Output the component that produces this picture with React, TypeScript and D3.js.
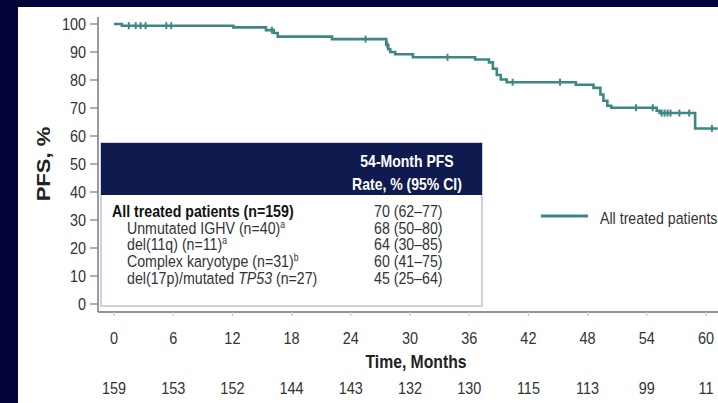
import React from "react";
import * as d3 from "d3";

// ---- Data ----
const eventTimes = [0, 0.8, 12.1, 15.4, 16.2, 16.6, 22.1, 27.6, 27.8, 28.0, 28.5, 30.3, 36.6, 38.0, 38.4, 38.8, 39.2, 39.8, 46.8, 48.6, 49.3, 49.6, 50.0, 50.4, 55.0, 55.3, 58.9];
const survival = [100, 99.4, 98.8, 97.8, 96.8, 95.5, 94.6, 92.5, 91.0, 90.0, 89.2, 88.1, 87.3, 86.3, 84.0, 81.8, 80.2, 79.2, 78.3, 77.2, 74.8, 72.6, 70.8, 70.1, 69.0, 68.2, 62.7];
const endTime = 61.2;
const censorTimes = [1.5, 2.2, 2.7, 3.2, 5.3, 5.8, 16.0, 25.5, 27.7, 33.8, 40.4, 45.2, 52.9, 54.6, 55.5, 55.8, 56.1, 56.4, 57.3, 58.3, 60.6];

const xTicks = [0, 6, 12, 18, 24, 30, 36, 42, 48, 54, 60];
const yTicks = [0, 10, 20, 30, 40, 50, 60, 70, 80, 90, 100];
const atRisk = [159, 153, 152, 144, 143, 132, 130, 115, 113, 99, 11];

const headerLines = ["54-Month PFS", "Rate, % (95% CI)"];
const rowLabels = ["All treated patients (n=159)", "Unmutated IGHV (n=40)", "del(11q) (n=11)", "Complex karyotype (n=31)", "del(17p)/mutated TP53 (n=27)"];
const rowSup = ["", "a", "a", "b", ""];
const rowRates = ["70 (62\u201377)", "68 (50\u201380)", "64 (30\u201385)", "60 (41\u201375)", "45 (25\u201364)"];

const legendLabel = "All treated patients";
const xTitle = "Time, Months";
const yTitle = "PFS, %";

// ---- Style ----
const FONT = "'Liberation Sans', Arial, Helvetica, sans-serif";
const NAVY = "#03053a";
const HEADER = "#0f1b4e";
const TEAL = "#3d8884";
const TXT = "#333";

type TP = { x: number; y: number; size: number; sx?: number; anchor?: string; weight?: string | number; fill?: string; children?: React.ReactNode };
function T({ x, y, size, sx = 0.9, anchor = "start", weight = "normal", fill = TXT, children }: TP) {
  return (
    <text transform={`translate(${x},${y}) scale(${sx},1)`} fontSize={size} fontFamily={FONT} fontWeight={weight as any} textAnchor={anchor} fill={fill}>
      {children}
    </text>
  );
}

export default function App() {
  const W = 718, H = 403;
  const x = d3.scaleLinear().domain([0, 60]).range([114, 706]);
  const y = d3.scaleLinear().domain([0, 100]).range([304, 24]);

  const pts: [number, number][] = eventTimes.map((t, i) => [t, survival[i]]);
  pts.push([endTime, survival[survival.length - 1]]);
  const line = d3.line<[number, number]>().x(d => x(d[0])).y(d => y(d[1])).curve(d3.curveStepAfter);

  const survAt = (t: number) => {
    let v = survival[0];
    for (let i = 0; i < eventTimes.length; i++) if (eventTimes[i] <= t) v = survival[i];
    return v;
  };

  const axisX = 98;
  const axisY = 312;
  const tabL = 101, tabR = 482, tabT = 143, tabHB = 195, tabB = 306;
  const rowBase = [217, 233.5, 250, 267, 283.5];

  return (
    <svg width={W} height={H} viewBox={`0 0 ${W} ${H}`} style={{ position: "absolute", left: 0, top: 0 }}>
      <rect x={0} y={0} width={W} height={H} fill={NAVY} />
      <rect x={18} y={7} width={W - 18} height={H - 7} fill="#ffffff" />

      {/* y axis */}
      <line x1={axisX} x2={axisX} y1={17} y2={axisY} stroke="#7a7a7a" strokeWidth={1.5} />
      {yTicks.map(v => (
        <g key={v}>
          <line x1={axisX - 8} x2={axisX} y1={y(v)} y2={y(v)} stroke="#7a7a7a" strokeWidth={1.2} />
          <T x={86} y={y(v) + 6} size={17} sx={0.85} anchor="end">{v}</T>
        </g>
      ))}
      <text transform={`translate(50,164) rotate(-90) scale(1.16,1)`} fontSize={19} fontWeight="bold" fontFamily={FONT} textAnchor="middle" fill="#222">{yTitle}</text>

      {/* x axis */}
      <line x1={axisX} x2={W} y1={axisY} y2={axisY} stroke="#6e6e6e" strokeWidth={1.5} />
      {xTicks.map((t, i) => (
        <g key={t}>
          <line x1={x(t)} x2={x(t)} y1={axisY} y2={axisY + 4} stroke="#c8c8c8" strokeWidth={1.2} />
          <T x={x(t)} y={343.5} size={17} sx={0.85} anchor="middle">{t}</T>
          <T x={x(t)} y={393.5} size={17} sx={0.85} anchor="middle">{atRisk[i]}</T>
        </g>
      ))}
      <T x={416} y={368} size={17.5} sx={0.9} anchor="middle" weight="bold" fill="#222">{xTitle}</T>

      {/* KM curve */}
      <path d={line(pts) || ""} fill="none" stroke={TEAL} strokeWidth={2.6} />
      {censorTimes.map((t, i) => (
        <line key={i} x1={x(t)} x2={x(t)} y1={y(survAt(t)) - 3.5} y2={y(survAt(t)) + 3.5} stroke={TEAL} strokeWidth={2} />
      ))}

      {/* legend */}
      <line x1={541} x2={588} y1={216} y2={216} stroke={TEAL} strokeWidth={3} />
      <T x={600} y={224} size={16.5} sx={0.86}>{legendLabel}</T>

      {/* table */}
      <rect x={tabL} y={tabT} width={tabR - tabL} height={tabB - tabT} fill="#ffffff" stroke="#bcc3da" strokeWidth={1.5} />
      <rect x={tabL} y={tabT} width={tabR - tabL} height={tabHB - tabT} fill={HEADER} />
      {headerLines.map((s, i) => (
        <T key={i} x={407} y={167 + i * 23} size={16.5} sx={0.85} anchor="middle" weight="bold" fill="#ffffff">{s}</T>
      ))}
      {rowLabels.map((s, i) => {
        const bold = i === 0;
        const lx = bold ? 112 : 127;
        let content: React.ReactNode = s;
        if (s.includes("TP53")) {
          const [a, b] = s.split("TP53");
          content = (<>{a}<tspan fontStyle="italic">TP53</tspan>{b}</>);
        }
        return (
          <g key={i}>
            <T x={lx} y={rowBase[i]} size={16.5} sx={0.86} weight={bold ? "bold" : "normal"} fill={bold ? "#111" : TXT}>
              {content}
              {rowSup[i] ? <tspan dy={-6} fontSize={10}>{rowSup[i]}</tspan> : null}
            </T>
            <T x={374} y={rowBase[i]} size={16.5} sx={0.86} fill={TXT}>{rowRates[i]}</T>
          </g>
        );
      })}
    </svg>
  );
}
